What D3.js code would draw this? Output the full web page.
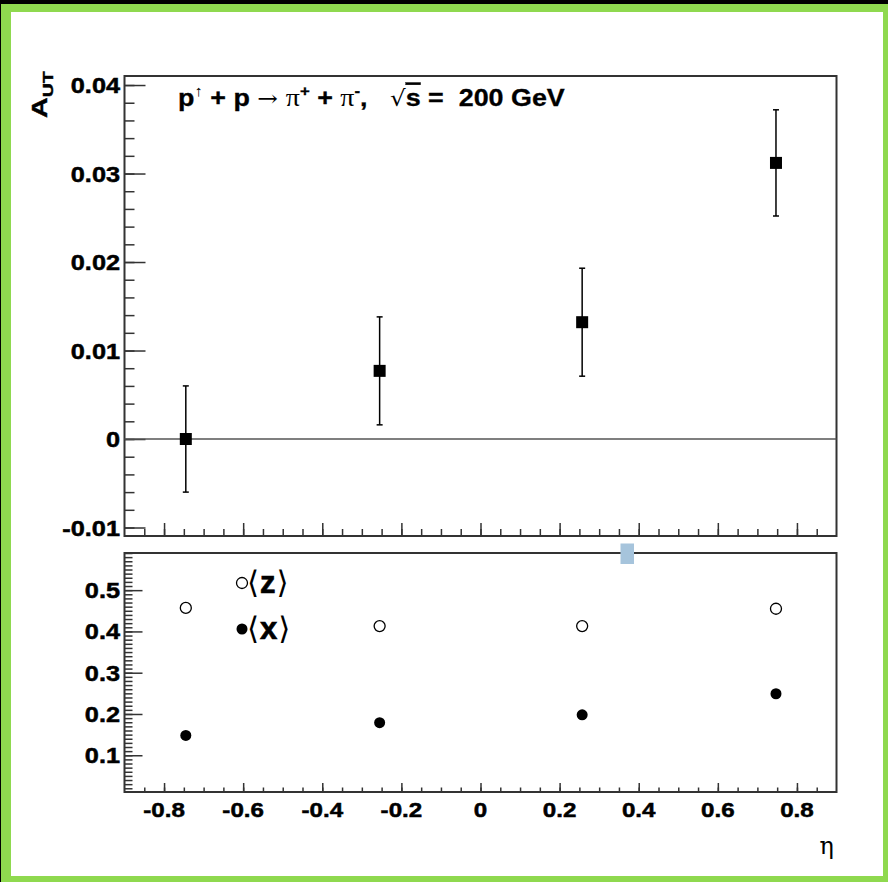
<!DOCTYPE html>
<html><head><meta charset="utf-8">
<script src="https://cdn.jsdelivr.net/npm/d3@7"></script>
<style>html,body{margin:0;padding:0;background:#000;} svg{display:block} text{white-space:pre}</style>
</head><body>
<svg id="c" width="888" height="882"></svg>
<script>
// ---- data ----
const eta = [-0.745, -0.255, 0.257, 0.747];
const aut = [0.0000, 0.0077, 0.0132, 0.0312];
const autErr = [0.0060, 0.0061, 0.0061, 0.0060];
const zMean = [0.457, 0.413, 0.413, 0.455];
const xMean = [0.148, 0.179, 0.198, 0.249];
const xTicks = [-0.8, -0.6, -0.4, -0.2, 0, 0.2, 0.4, 0.6, 0.8];
const xTickLabels = ["-0.8", "-0.6", "-0.4", "-0.2", "0", "0.2", "0.4", "0.6", "0.8"];
const autTicks = [-0.01, 0, 0.01, 0.02, 0.03, 0.04];
const autTickLabels = ["-0.01", "0", "0.01", "0.02", "0.03", "0.04"];
const meanTicks = [0.1, 0.2, 0.3, 0.4, 0.5];
const meanTickLabels = ["0.1", "0.2", "0.3", "0.4", "0.5"];

const svg = d3.select("#c");
const FONT = "'Liberation Sans', Arial, Helvetica, sans-serif";
const SX = 1.15;
const frameCol = "#333";

// background frame
svg.append("rect").attr("x", 0).attr("y", 0).attr("width", 888).attr("height", 882).attr("fill", "#000");
svg.append("rect").attr("x", 1).attr("y", 4).attr("width", 887).attr("height", 878).attr("fill", "#8fd94f");
svg.append("rect").attr("x", 11).attr("y", 12).attr("width", 872).attr("height", 864).attr("fill", "#fff");

// scales
const x = d3.scaleLinear().domain([-0.9, 0.9]).range([124.5, 836.5]);
const yTop = d3.scaleLinear().domain([-0.01096, 0.04102]).range([536, 76]);
const yBot = d3.scaleLinear().domain([0.011, 0.590]).range([792, 553]);

function label(g, tx, ty, txt, anchor, size) {
  return g.append("text")
    .attr("transform", `translate(${tx},${ty}) scale(${SX},1)`)
    .attr("text-anchor", anchor)
    .attr("font-family", FONT).attr("font-weight", "bold")
    .attr("font-size", size).attr("fill", "#000")
    .attr("stroke", "#000").attr("stroke-width", 0.5).text(txt);
}

function minorRange(a, b, step) {
  const out = [];
  const n = Math.round((b - a) / step);
  for (let i = 0; i <= n; i++) out.push(+(a + i * step).toFixed(6));
  return out;
}

function drawAxes(yScale, top, bottom, yMajor, yMinorStep, yMajLen, yMinLen, xMajLen, xMinLen) {
  const g = svg.append("g");
  const [d0, d1] = yScale.domain();
  const ym = minorRange(Math.ceil(d0 / yMinorStep - 1e-6) * yMinorStep, Math.floor(d1 / yMinorStep + 1e-6) * yMinorStep, yMinorStep);
  g.append("g").attr("transform", `translate(${x.range()[0]},0)`)
    .call(d3.axisRight(yScale).tickValues(ym).tickSize(yMinLen).tickFormat(""));
  g.append("g").attr("transform", `translate(${x.range()[0]},0)`)
    .call(d3.axisRight(yScale).tickValues(yMajor).tickSize(yMajLen).tickFormat(""));
  const xm = minorRange(-0.85, 0.85, 0.05);
  g.append("g").attr("transform", `translate(0,${bottom})`)
    .call(d3.axisTop(x).tickValues(xm).tickSize(xMinLen).tickFormat(""));
  g.append("g").attr("transform", `translate(0,${bottom})`)
    .call(d3.axisTop(x).tickValues(xTicks).tickSize(xMajLen).tickFormat(""));
  g.selectAll(".domain").remove();
  g.selectAll(".tick line").attr("stroke", frameCol).attr("stroke-width", 1.5);
  svg.append("rect").attr("x", x.range()[0]).attr("y", top)
    .attr("width", x.range()[1] - x.range()[0]).attr("height", bottom - top)
    .attr("fill", "none").attr("stroke", frameCol).attr("stroke-width", 2);
  return g;
}

// ---- top panel ----
drawAxes(yTop, 76, 536, autTicks, 0.002, 21, 10, 13, 7);
svg.append("line").attr("x1", x.range()[0]).attr("x2", x.range()[1])
  .attr("y1", yTop(0)).attr("y2", yTop(0)).attr("stroke", "#555").attr("stroke-width", 1.5);
autTicks.forEach((t, i) => label(svg, 120, yTop(t) + 8, autTickLabels[i], "end", 22));

// error bars
const eb = svg.append("g").attr("stroke", "#000").attr("stroke-width", 1.5);
eta.forEach((e, i) => {
  eb.append("line").attr("x1", x(e)).attr("x2", x(e)).attr("y1", yTop(aut[i] - autErr[i])).attr("y2", yTop(aut[i] + autErr[i]));
  [aut[i] - autErr[i], aut[i] + autErr[i]].forEach(v =>
    eb.append("line").attr("x1", x(e) - 3).attr("x2", x(e) + 3).attr("y1", yTop(v)).attr("y2", yTop(v)));
});
svg.append("g").selectAll("rect").data(eta).join("rect")
  .attr("x", d => x(d) - 6).attr("y", (d, i) => yTop(aut[i]) - 6)
  .attr("width", 12).attr("height", 12).attr("fill", "#000");

// title
const title = svg.append("text")
  .attr("transform", `translate(178,106) scale(1.12,1)`)
  .attr("font-family", FONT).attr("font-weight", "bold").attr("font-size", 24).attr("fill", "#000")
  .attr("stroke", "#000").attr("stroke-width", 0.3);
title.append("tspan").text("p");
title.append("tspan").attr("font-size", 15).attr("font-weight", "normal").attr("stroke-width", 0).attr("dy", -10).text("↑");
title.append("tspan").attr("dy", 10).text(" + p ");
title.append("tspan").attr("font-family", "'DejaVu Serif', serif").attr("font-weight", "normal").attr("stroke-width", 0).attr("font-size", 22).text("→ ");
title.append("tspan").attr("font-family", "'Liberation Serif', serif").attr("font-weight", "normal").attr("stroke-width", 0).attr("font-size", 25).text("π");
title.append("tspan").attr("font-size", 15).attr("dy", -10).text("+");
title.append("tspan").attr("dy", 10).text(" + ");
title.append("tspan").attr("font-family", "'Liberation Serif', serif").attr("font-weight", "normal").attr("stroke-width", 0).attr("font-size", 25).text("π");
title.append("tspan").attr("font-size", 15).attr("dy", -10).text("-");
title.append("tspan").attr("dy", 10).text(",   ");
title.append("tspan").attr("font-family", "'DejaVu Sans', sans-serif").attr("font-weight", "normal").attr("stroke-width", 0).attr("font-size", 22).text("√");
title.append("tspan").attr("style", "text-decoration: overline").text("s");
title.append("tspan").text(" =  200 GeV");

// y axis title
const yt = svg.append("text")
  .attr("transform", "translate(47,118) rotate(-90) scale(1.3,1)")
  .attr("font-family", FONT).attr("font-weight", "bold").attr("font-size", 22).attr("fill", "#000")
  .attr("stroke", "#000").attr("stroke-width", 0.4);
yt.append("tspan").text("A");
yt.append("tspan").attr("font-size", 15).attr("dy", 6).text("UT");

// ---- bottom panel ----
drawAxes(yBot, 553, 792, meanTicks, 0.01, 18, 8, 9, 4.5);
meanTicks.forEach((t, i) => label(svg, 120, yBot(t) + 8, meanTickLabels[i], "end", 22));
xTicks.forEach((t, i) => label(svg, x(t), 817, xTickLabels[i], "middle", 21));

svg.append("g").selectAll("circle").data(eta).join("circle")
  .attr("cx", d => x(d)).attr("cy", (d, i) => yBot(zMean[i])).attr("r", 5.5)
  .attr("fill", "#fff").attr("stroke", "#000").attr("stroke-width", 1.3);
svg.append("g").selectAll("circle").data(eta).join("circle")
  .attr("cx", d => x(d)).attr("cy", (d, i) => yBot(xMean[i])).attr("r", 5.5)
  .attr("fill", "#000");

// legend
svg.append("circle").attr("cx", 242).attr("cy", 583).attr("r", 5.5).attr("fill", "#fff").attr("stroke", "#000").attr("stroke-width", 1.3);
svg.append("circle").attr("cx", 242).attr("cy", 629).attr("r", 5.5).attr("fill", "#000");
[["z", 593], ["x", 639]].forEach(([s, yb]) => {
  const t = svg.append("text").attr("x", 247).attr("y", yb)
    .attr("font-family", FONT).attr("font-size", 31).attr("fill", "#000");
  t.append("tspan").attr("font-family", "'DejaVu Sans', sans-serif").attr("font-weight", "normal").text("⟨");
  t.append("tspan").attr("font-weight", "bold").attr("stroke", "#000").attr("stroke-width", 0.7).attr("dx", 1).text(s);
  t.append("tspan").attr("font-family", "'DejaVu Sans', sans-serif").attr("font-weight", "normal").attr("dx", 1).text("⟩");
});

// eta label
svg.append("text").attr("x", 834).attr("y", 854).attr("text-anchor", "end")
  .attr("font-family", "'DejaVu Serif', 'Liberation Serif', serif").attr("font-size", 24).attr("fill", "#000").text("η");

// small light-blue mark
svg.append("rect").attr("x", 620.5).attr("y", 543.5).attr("width", 13.5).attr("height", 20.5).attr("fill", "#a6c4dc");
</script>
</body></html>
